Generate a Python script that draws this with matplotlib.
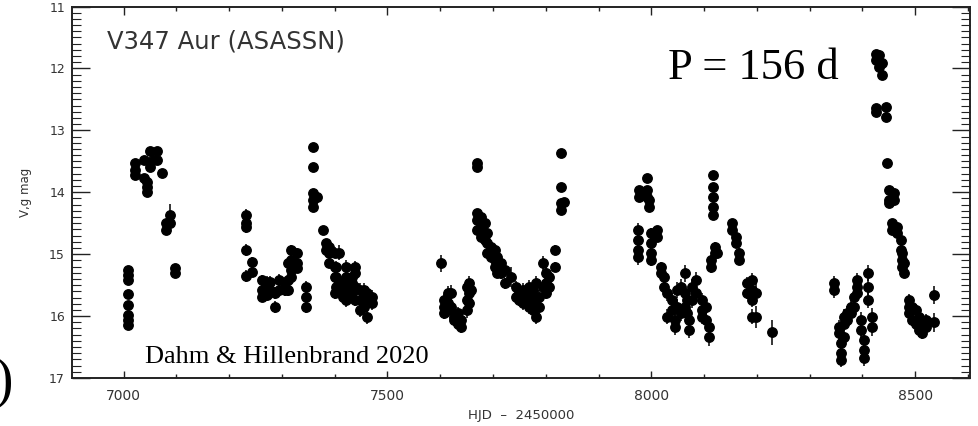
import matplotlib.pyplot as plt
from matplotlib.ticker import MultipleLocator

# ASAS-SN V/g light curve of V347 Aur, one entry per observing night:
# HJD-2450000, the magnitudes measured that night, and their typical error
COL_HJD = [
    # 2015/16
    7008, 7021, 7038, 7045, 7049, 7055, 7064, 7072, 7081, 7087, 7098,
    # 2016/17
    7231, 7244, 7263, 7271, 7277, 7286, 7295, 7305, 7311, 7318, 7328, 7345,
    7358, 7366, 7377, 7383, 7390, 7400, 7403, 7409, 7415, 7422, 7432, 7438,
    7447, 7456, 7462, 7470,
    # 2017/18
    7602, 7608, 7614, 7621, 7627, 7633, 7640, 7650, 7655, 7659, 7669, 7670,
    7678, 7684, 7689, 7697, 7703, 7708, 7716, 7722, 7735, 7744, 7750, 7756,
    7763, 7769, 7775, 7782, 7788, 7794, 7801, 7807, 7818, 7828, 7835,
    # 2018/19
    7974, 7977, 7991, 7996, 8000, 8010, 8019, 8025, 8030, 8040, 8045, 8049,
    8057, 8063, 8068, 8072, 8078, 8085, 8097, 8104, 8110, 8114, 8117, 8121,
    8125, 8153, 8161, 8167, 8182, 8191, 8199, 8229,
    # 2019/20
    8347, 8356, 8360, 8366, 8371, 8379, 8384, 8390, 8398, 8403, 8411, 8419,
    8426, 8432, 8438, 8445, 8447, 8451, 8456, 8460, 8466, 8474, 8475, 8479,
    8489, 8494, 8502, 8508, 8513, 8521, 8536,
]

COL_MAG = [
    # 2015/16
    [15.26, 15.33, 15.42, 15.65, 15.82, 15.98, 16.06, 16.15],
    [13.53, 13.64, 13.72], [13.48, 13.77], [13.84, 13.92, 14.00],
    [13.33, 13.60], [13.48], [13.33, 13.48], [13.69], [14.50, 14.61],
    [14.37, 14.50], [15.22, 15.30],
    # 2016/17
    [14.37, 14.50, 14.56, 14.93, 15.35], [15.13, 15.29], [15.42, 15.58, 15.69],
    [15.45, 15.66], [15.45, 15.58], [15.63, 15.85], [15.42, 15.58],
    [15.53, 15.58], [15.15, 15.42, 15.58], [14.93, 15.10, 15.26, 15.37],
    [14.98, 15.15, 15.22], [15.53, 15.69, 15.85],
    [13.27, 13.59, 14.01, 14.13, 14.24], [14.08], [14.61], [14.82, 14.93],
    [14.88, 14.98, 15.15], [14.98, 15.21, 15.37, 15.63], [15.21, 15.37, 15.53],
    [14.98, 15.45], [15.47, 15.58, 15.69], [15.21, 15.37, 15.58, 15.74],
    [15.37, 15.47, 15.63], [15.21, 15.31, 15.53, 15.74],
    [15.58, 15.74, 15.90], [15.58, 15.69, 15.85], [15.63, 15.74, 16.01],
    [15.69, 15.79],
    # 2017/18
    [15.15], [15.74, 15.85, 15.95], [15.63, 15.79, 15.90], [15.63, 15.85],
    [16.01, 16.06], [15.95, 16.12], [16.06, 16.18], [15.53, 15.74, 15.90],
    [15.47, 15.63, 15.79], [15.58], [13.53, 13.59], [14.34, 14.45, 14.61],
    [14.40, 14.56, 14.72], [14.50, 14.66, 14.77], [14.66, 14.82, 14.98],
    [14.88, 15.05], [14.93, 15.10, 15.21], [15.05, 15.21, 15.31],
    [15.15, 15.31], [15.26, 15.47], [15.37], [15.53, 15.69], [15.63, 15.74],
    [15.58, 15.69, 15.79], [15.63, 15.74], [15.53, 15.69, 15.85],
    [15.58, 15.74, 15.90], [15.47, 15.74, 16.01], [15.69, 15.85],
    [15.15, 15.53], [15.31, 15.47, 15.63], [15.37, 15.53], [14.93, 15.21],
    [13.37, 13.92, 14.18, 14.29], [14.16],
    # 2018/19
    [14.61, 14.77, 14.93, 15.05], [13.96, 14.08], [13.77, 13.96, 14.08],
    [14.13, 14.24], [14.66, 14.82, 14.98, 15.10], [14.61, 14.72],
    [15.21, 15.31], [15.37, 15.53], [15.63, 16.01], [15.74, 15.90],
    [16.06, 16.18], [15.58, 15.85], [15.53, 15.95], [15.31, 15.63, 15.85],
    [15.74, 15.95], [16.06, 16.23], [15.53, 15.74], [15.42, 15.63],
    [15.74, 15.90, 16.01], [15.85, 16.06], [16.18, 16.34], [15.10, 15.21],
    [13.72, 13.92, 14.08, 14.24, 14.37], [14.88, 14.98], [14.98],
    [14.50, 14.61], [14.72, 14.82], [14.98, 15.10], [15.47, 15.63],
    [15.42, 15.58, 15.74, 16.01], [15.63, 16.01], [16.26],
    # 2019/20
    [15.47, 15.58], [16.18, 16.27], [16.44, 16.60, 16.71],
    [16.01, 16.12, 16.34], [15.95, 16.06], [15.85, 15.95], [15.69, 15.85],
    [15.42, 15.53, 15.63], [16.06, 16.23], [16.39, 16.55, 16.68],
    [15.31, 15.53, 15.74], [16.01, 16.18], [11.76, 11.86, 12.64, 12.70],
    [11.78, 11.98], [11.91, 12.11], [12.62, 12.78], [13.53],
    [13.96, 14.13, 14.18], [14.50, 14.61], [14.01, 14.13], [14.56, 14.66],
    [14.77, 14.93], [14.98, 15.10, 15.21], [15.15, 15.31],
    [15.74, 15.85, 15.95], [15.85, 16.06], [15.90, 16.12], [16.01, 16.23],
    [16.12, 16.27], [16.06, 16.18], [15.66, 16.10],
]

COL_ERR = [
    # 2015/16
    0.06, 0.04, 0.04, 0.04, 0.04, 0.04, 0.04, 0.04, 0.06, 0.18, 0.05,
    # 2016/17
    0.10, 0.08, 0.09, 0.09, 0.09, 0.10, 0.10, 0.09, 0.09, 0.08, 0.08, 0.10,
    0.04, 0.04, 0.05, 0.06, 0.07, 0.09, 0.10, 0.12, 0.10, 0.11, 0.10, 0.10,
    0.11, 0.11, 0.11, 0.11,
    # 2017/18
    0.14, 0.10, 0.12, 0.14, 0.10, 0.10, 0.10, 0.13, 0.12, 0.10, 0.04, 0.06,
    0.07, 0.07, 0.08, 0.08, 0.08, 0.08, 0.09, 0.09, 0.16, 0.10, 0.10, 0.11,
    0.11, 0.11, 0.11, 0.12, 0.11, 0.12, 0.10, 0.10, 0.08, 0.05, 0.05,
    # 2018/19
    0.12, 0.06, 0.06, 0.06, 0.09, 0.07, 0.09, 0.10, 0.12, 0.12, 0.12, 0.13,
    0.13, 0.14, 0.12, 0.12, 0.13, 0.13, 0.12, 0.12, 0.14, 0.09, 0.06, 0.08,
    0.08, 0.06, 0.07, 0.08, 0.10, 0.12, 0.18, 0.20,
    # 2019/20
    0.12, 0.12, 0.12, 0.12, 0.11, 0.11, 0.11, 0.12, 0.12, 0.12, 0.13, 0.14,
    0.05, 0.05, 0.05, 0.05, 0.05, 0.06, 0.07, 0.06, 0.07, 0.08, 0.08, 0.08,
    0.10, 0.10, 0.10, 0.10, 0.10, 0.10, 0.15,
]

STAR_LABEL = "V347 Aur (ASASSN)"
PERIOD_LABEL = "P = 156 d"
REFERENCE = "Dahm & Hillenbrand 2020"


# flatten night columns into individual points
hjd, mag, err = [], [], []
for t, ms, e in zip(COL_HJD, COL_MAG, COL_ERR):
    for m in ms:
        hjd.append(t)
        mag.append(m)
        err.append(e)

fig = plt.figure(figsize=(9.79, 4.26), dpi=100)
ax = fig.add_axes([0.0735, 0.1127, 0.9173, 0.872])

ax.errorbar(hjd, mag, yerr=err, fmt="o", color="black", ms=6.8,
            elinewidth=1.1, capsize=0, zorder=3)

ax.set_xlim(6902, 8604)
ax.set_ylim(17, 11)

ax.xaxis.set_major_locator(MultipleLocator(500))
ax.xaxis.set_minor_locator(MultipleLocator(100))
ax.yaxis.set_major_locator(MultipleLocator(1))
ax.yaxis.set_minor_locator(MultipleLocator(0.1))

ax.tick_params(axis="both", which="both", direction="in",
               top=True, right=True, color="#222222", width=1.0)
ax.tick_params(axis="x", which="major", length=5.4, pad=8,
               labelsize=10, labelcolor="#333333")
ax.tick_params(axis="x", which="minor", length=2.8)
ax.tick_params(axis="y", which="major", length=13, pad=5,
               labelsize=9, labelcolor="#333333")
ax.tick_params(axis="y", which="minor", length=6.5, width=0.8)
for sp in ax.spines.values():
    sp.set_linewidth(1.4)
    sp.set_color("#222222")

ax.set_xlabel("HJD  \u2013  2450000", fontsize=9.5, color="#333333",
              labelpad=4)
ax.set_ylabel("V,g mag", fontsize=8.5, color="#333333", labelpad=12)

ax.text(0.039, 0.888, STAR_LABEL, transform=ax.transAxes,
        fontsize=17.5, color="#333333", va="baseline")
ax.text(0.664, 0.805, PERIOD_LABEL, transform=ax.transAxes,
        family="Liberation Serif", fontsize=32, color="black",
        va="baseline")
ax.text(0.081, 0.040, REFERENCE, transform=ax.transAxes,
        family="Liberation Serif", fontsize=19, color="black",
        va="baseline")

# stray panel bracket at the lower left
fig.text(0.013, 0.10, ")", family="Liberation Serif", fontsize=40,
         ha="right", va="center", color="black")

fig.savefig("out.png", dpi=100, facecolor="white")
